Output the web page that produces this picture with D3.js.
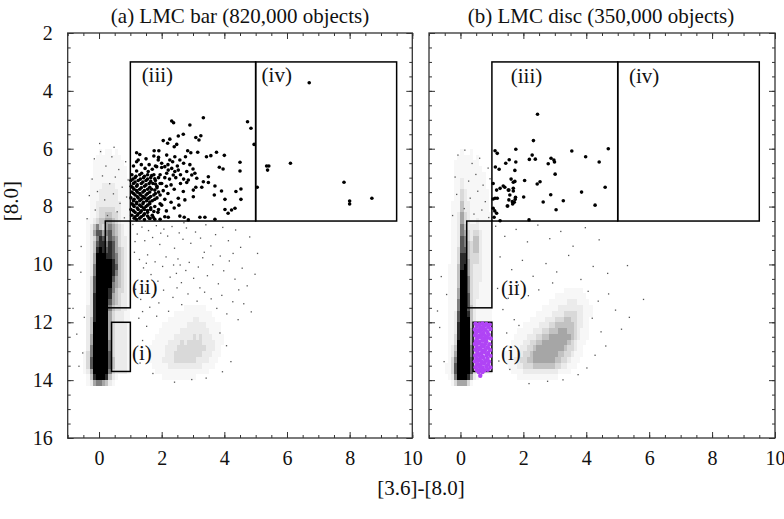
<!DOCTYPE html>
<html>
<head>
<meta charset="utf-8">
<script src="https://cdn.jsdelivr.net/npm/d3@7"></script>
<style>
body { margin: 0; background: #fff; }
svg text { font-family: "Liberation Serif", "Times New Roman", Times, serif !important; fill: #111; }
</style>
</head>
<body>
<svg width="784" height="519"></svg>
<script>
// ---- data ----
const xDomain = [-1, 10];
const yDomain = [2, 16];
const xTickLabels = [0, 2, 4, 6, 8, 10];
const yTickLabels = [2, 4, 6, 8, 10, 12, 14, 16];
const panelTitles = ["(a) LMC bar (820,000 objects)", "(b) LMC disc (350,000 objects)"];
const regionNames = ["(i)", "(ii)", "(iii)", "(iv)"];

// selection regions [x0, x1, y0, y1]
const regionI = [0.4, 1.0, 12, 13.7];
const regionII = [0.2, 1.0, 8.5, 11.5];
const regionIII = [1.0, 5.0, 3, 8.5];
const regionIV = [5.0, 9.5, 3, 8.5];

// density of the faint dots, one digit (0-9) per cell
// core grid: cells 0.1 wide starting at x=-0.7, 0.2 tall starting at y=5.4
const coreGrid = { x0: -0.7, dx: 0.1, y0: 5.4, dy: 0.2 };
const coreBar = [
"00000000000000000",
"00000000000000000",
"00000000000000000",
"00000001011010000",
"00000011111111000",
"00000111111111100",
"00000111111111110",
"00000111111111110",
"00001111111111111",
"00001111222211111",
"00001112222221111",
"00001112222221111",
"00001122222222111",
"00001123333322111",
"00001123344332111",
"00011234455432111",
"00012464356543211",
"00012577567543211",
"00012368757653221",
"00012478868753221",
"00012489878754321",
"00012599988764321",
"00012599999864321",
"00012699999874321",
"00012699999864321",
"00013799999754321",
"00013799999654321",
"00013799998643321",
"00013899998543221",
"00013899997543221",
"00023899996433221",
"00023899995322211",
"00024899995322211",
"00024999995322221",
"00024999995322221",
"00025999995322221",
"00025999996322221",
"00026999996322221",
"00136999997322221",
"00137999997422221",
"00137999997422221",
"00125999996322221",
"00014899984210000",
"00012566542100000"
];
const coreDisc = [
"00000000000000000",
"00000000000000000",
"00000000000000000",
"00000001001000000",
"00000011111010000",
"00000111111110000",
"00000111111111000",
"00000111111111100",
"00000112111111100",
"00000112111111100",
"00000113211111110",
"00000113211111110",
"00001114221111110",
"00001114221111110",
"00001125321111111",
"00001125321121111",
"00001126422221111",
"00001126532332111",
"00001127632442111",
"00001127643442111",
"00001137743442111",
"00001138843332111",
"00001138853332111",
"00011148953222111",
"00011149953222111",
"00011149963222111",
"00011149963221111",
"00011159963221111",
"00011159973221111",
"00011169973211111",
"00011169974211111",
"00011279984211111",
"00011279994211111",
"00011289994211111",
"00011289995211111",
"00011389995311111",
"00011399995311111",
"00012499996311111",
"00012599996321111",
"00013699997321111",
"00113799997321111",
"00113799997321111",
"00012699985210000",
"00001355531000000"
];

// red-clump-like cloud: cells 0.1 wide from x=1.2, 0.2 tall from y=10.8
const clusterGrid = { x0: 1.2, dx: 0.1, y0: 10.8, dy: 0.2 };
const clusterBar = [
"00000000000000000000000000000000",
"00000000000000000000000000000000",
"00000000000000000000000000000000",
"00000000000000011111110000000000",
"00000000000011111111111100000000",
"00000000001111111122111110000000",
"00000000111111112222221111100000",
"00000001111111222222222111100000",
"00000011111122222232322211110000",
"00000111112222323333322221110000",
"00001111122223333333332221100000",
"00001111122233333333322211100000",
"00001111222233333332222111000000",
"00000111112222222222211110000000",
"00000011111111111111111000000000",
"00000000111111111110000000000000"
];
const clusterDisc = [
"00000000000000000000011111100000",
"00000000000000000011111111110000",
"00000000000000001111112221111000",
"00000000000000111112222222211100",
"00000000000011111222233332211100",
"00000000001111122233344332211000",
"00000000111112223344444432211000",
"00000011111222334445554432111000",
"00000111122233445555555432111000",
"00001111223344555555554321110000",
"00011112233455555555543321100000",
"00111122334555555554433211100000",
"00111223344555555544332111000000",
"00011122333444444433221110000000",
"00001111222222222221111000000000",
"00000011111111111110000000000000"
];

// isolated faint dots [colour, magnitude]
const sparseBar = [
[1.08,8.62],[1.22,8.95],[1.37,8.71],[1.46,9.18],[1.58,8.83],[1.71,9.07],[1.83,8.66],[1.94,9.31],[2.07,8.78],
[2.19,9.02],[2.33,8.69],[2.41,9.44],[2.56,8.91],[2.68,9.13],[2.79,8.74],[2.93,9.27],[3.08,8.88],[3.24,9.09],
[3.41,8.63],[3.57,9.36],[3.72,8.97],[3.95,8.72],[4.13,9.18],[4.36,8.81],[4.52,9.41],[4.81,9.05],[5.06,9.62],
[1.13,9.58],[1.29,9.83],[1.42,10.12],[1.55,9.67],[1.66,10.35],[1.79,9.91],[1.88,10.58],[2.03,10.07],[2.14,9.74],
[2.27,10.44],[2.38,10.02],[2.52,9.81],[2.63,10.63],[2.77,10.21],[2.88,9.93],[3.02,10.48],[3.17,10.09],[3.31,9.77],
[3.46,10.39],[3.63,10.01],[3.81,10.67],[3.98,10.22],[4.16,9.88],[4.34,10.51],[4.57,10.13],[4.73,10.74],[4.98,10.34],
[1.17,10.86],[1.33,11.21],[1.48,10.93],[1.62,11.48],[1.76,11.06],[1.91,11.33],[2.06,10.89],[2.22,11.62],[2.36,11.14],
[2.49,10.81],[2.64,11.39],[2.84,11.02],[3.13,11.27],[3.37,10.96],[3.58,11.19],[3.76,11.52],[3.92,11.07],[4.08,11.71],
[4.27,11.29],[4.44,11.91],[4.62,11.36],[4.86,11.64],[1.27,11.86],[1.52,12.14],[1.39,12.63],[1.61,13.02],[1.31,13.41],
[1.72,13.77],[3.86,12.37],[4.07,12.81],[4.21,13.36],[3.94,13.71],[2.41,14.07],[2.96,13.98],[3.42,13.93],
[1.15,9.21],[1.51,9.96],[1.97,8.92],[2.47,10.31],[2.71,8.56],[3.36,9.58],[3.87,9.71],[4.28,9.62],[1.39,11.63],
[1.84,11.79],[2.59,10.02],[3.22,10.81],[4.46,10.88],
[-0.58,10.27],[-0.71,12.41],[-0.52,13.06],[-0.83,11.52],[-0.57,9.38],[-0.64,13.52],[-0.47,11.83],
[-0.15,6.35],[0.05,6.1],[0.22,6.6],[0.41,6.28],[0.63,6.72],[0.85,6.45],[-0.22,7.05],[0.11,6.94],[0.34,7.21],
[0.52,6.98],[0.74,7.33],[0.93,7.08],[-0.31,7.62],[-0.05,7.48],[0.18,7.77],[0.46,7.56],[0.67,7.89],[0.88,7.67],
[-0.12,8.12],[0.27,8.31],[0.58,8.18],[0.81,8.39],[-0.38,8.42],[0.02,5.82],[0.48,5.95]
];
const sparseDisc = [
[1.12,8.68],[1.41,9.03],[1.77,8.79],[2.13,9.22],[2.46,8.64],[2.84,9.11],[3.19,8.86],[3.58,9.37],[3.97,8.73],[4.41,9.15],
[1.26,9.74],[1.63,10.18],[1.97,9.86],[2.31,10.41],[2.72,9.97],[3.06,10.26],[3.44,9.69],[3.83,10.52],[4.22,10.07],
[4.68,10.31],[5.31,10.04],[1.18,10.83],[1.52,11.17],[1.84,10.71],[2.16,11.08],[2.49,10.88],[2.93,10.64],[4.06,10.93],
[4.38,11.27],[4.71,11.02],[4.93,11.58],[5.82,11.21],[5.37,11.83],[1.35,11.56],[1.71,11.91],[1.47,12.37],[1.86,12.11],
[4.19,11.86],[4.47,12.33],[4.62,12.82],[4.28,13.14],[1.38,12.91],[1.22,13.34],[1.57,13.63],[3.74,13.81],[4.02,13.58],
[2.18,14.12],[2.77,14.04],[3.26,13.99],[5.12,12.24],
[-0.61,10.42],[-0.66,12.18],[-0.52,13.36],[-0.44,11.04],[-0.73,11.61],
[-0.08,6.22],[0.14,6.05],[0.37,6.51],[0.61,6.33],[0.88,6.67],[-0.17,6.98],[0.26,7.12],[0.49,6.89],[0.72,7.26],
[0.94,7.04],[-0.12,7.58],[0.31,7.71],[0.55,7.47],[0.79,7.83],[0.12,8.07],[0.43,8.26],[0.68,8.12],[0.9,8.38],[-0.25,8.31]
];

// bright sources (filled circles)
const boldBar = [
[1.05,6.9],[1.3,6.9],[1.55,6.9],[1.75,6.9],[1.15,7.0],[1.42,7.0],[1.65,7.0],[1.9,7.0],
[1.02,7.1],[1.25,7.1],[1.5,7.1],[1.8,7.1],[1.1,7.2],[1.35,7.2],[1.6,7.2],[1.72,7.2],[1.95,7.2],
[1.03,7.3],[1.2,7.3],[1.45,7.3],[1.85,7.3],[1.12,7.4],[1.3,7.4],[1.55,7.4],[1.68,7.4],
[1.05,7.5],[1.22,7.5],[1.4,7.5],[1.62,7.5],[1.9,7.5],[1.15,7.6],[1.33,7.6],[1.5,7.6],[1.75,7.6],
[1.02,7.7],[1.25,7.7],[1.45,7.7],[1.6,7.7],[1.85,7.7],[1.1,7.8],[1.3,7.8],[1.52,7.8],[1.7,7.8],
[1.05,7.9],[1.2,7.9],[1.4,7.9],[1.62,7.9],[1.95,7.9],[1.12,8.0],[1.35,8.0],[1.5,8.0],[1.78,8.0],
[1.02,8.1],[1.25,8.1],[1.45,8.1],[1.65,8.1],[1.15,8.2],[1.32,8.2],[1.55,8.2],[1.88,8.2],
[1.05,8.3],[1.22,8.3],[1.42,8.3],[1.7,8.3],[1.12,8.4],[1.3,8.4],[1.6,8.4],
[1.18,6.95],[1.45,6.95],[1.68,6.93],[1.08,7.05],[1.32,7.05],[1.55,7.05],[1.78,7.04],[1.15,7.15],[1.4,7.15],
[1.65,7.13],[1.22,7.25],[1.5,7.25],[1.8,7.22],[1.08,7.35],[1.35,7.35],[1.62,7.33],[1.2,7.45],[1.45,7.45],
[1.78,7.43],[1.1,7.55],[1.3,7.55],[1.55,7.55],[1.8,7.55],[1.22,7.65],[1.4,7.65],[1.65,7.65],[1.12,7.75],
[1.35,7.75],[1.55,7.73],[1.78,7.75],[1.2,7.85],[1.42,7.85],[1.62,7.84],[1.1,7.95],[1.3,7.95],[1.55,7.95],
[1.22,8.05],[1.42,8.05],[1.65,8.04],[1.1,8.15],[1.35,8.15],[1.55,8.14],[1.75,8.17],[1.25,8.25],[1.45,8.25],
[1.15,8.35],[1.35,8.35],[1.55,8.33],[1.2,8.45],[1.45,8.45],[1.78,8.44],
[1.75,6.25],[1.9,6.3],[1.6,6.55],[1.8,6.6],[2.0,6.65],[1.95,6.9],[2.1,7.0],[2.25,7.05],[2.0,7.2],
[2.15,7.3],[2.3,7.25],[1.85,7.35],[2.05,7.45],[2.2,7.55],[2.4,7.4],[1.95,7.6],[2.1,7.75],[2.3,7.85],
[2.0,7.95],[1.9,8.1],[2.15,8.15],[2.4,8.05],[2.55,7.95],[2.6,7.2],[2.45,7.0],[2.6,6.9],[2.7,7.05],
[2.5,6.6],[2.7,6.5],[2.9,6.55],[3.0,6.7],[2.35,6.45],[2.2,6.55],[1.5,6.35],[1.35,6.55],[1.1,6.6],[1.3,6.2],
[3.33,4.93],[2.32,5.04],[2.38,5.1],[2.9,5.18],[4.74,5.07],[4.85,5.29],[4.95,5.85],[2.53,5.56],[2.69,5.5],
[3.09,5.61],[3.25,5.55],[3.19,5.7],[2.26,5.67],[2.05,5.72],[2.19,5.81],[2.48,5.85],[2.4,5.93],[1.76,6.07],
[1.91,6.07],[1.2,6.14],[2.83,6.07],[2.93,6.14],[2.76,6.28],[3.15,6.12],[3.43,6.28],[3.57,6.24],[3.75,6.12],
[4.0,6.23],[4.5,6.47],[4.5,6.77],[3.84,6.64],[3.96,6.7],[1.2,6.45],[1.25,6.39],[2.16,6.22],[2.26,6.39],
[2.42,6.28],[2.58,6.39],[1.89,6.39],[2.0,6.5],[1.84,6.62],[1.7,6.71],[1.47,6.68],[1.57,6.79],[1.36,6.85],
[1.2,6.77],[2.1,6.62],[2.21,6.74],[2.32,6.68],[2.42,6.79],[2.53,6.74],[2.16,6.85],[2.37,6.91],[2.8,6.79],
[2.96,6.91],[3.06,6.85],[3.12,7.02],[2.85,7.08],[3.49,6.97],[3.33,7.14],[3.49,7.17],[3.28,7.33],[3.09,7.33],
[3.7,7.29],[3.91,7.46],[3.68,7.6],[4.37,7.48],[4.53,7.39],[4.53,7.75],[4.02,7.75],[2.8,7.17],[2.69,7.48],
[2.53,7.71],[2.74,7.77],[3.01,7.66],[3.01,7.43],[4.02,8.1],[4.23,8.12],[4.34,8.06],[4.12,8.23],[3.38,8.37],
[3.7,8.44],[3.22,8.37],[2.58,8.33],[2.72,8.37],[2.85,8.46],[2.21,8.37],[2.1,8.35],[1.95,8.44],[1.73,8.37],[1.63,8.41],
[6.71,3.72],[5.35,6.6],[5.42,6.6],[5.38,6.74],[6.11,6.5],[7.82,7.16],[8.0,7.81],[8.0,7.91],[8.71,7.71],[5.05,7.33]
];
const boldDisc = [
[2.45,4.81],[2.32,5.72],[1.1,6.07],[1.17,6.16],[1.76,6.02],[3.54,6.08],[4.7,6.0],[3.98,6.28],[4.41,6.46],
[2.28,6.22],[2.19,6.37],[2.38,6.36],[2.88,6.33],[2.97,6.39],[2.99,6.46],[2.79,6.52],[1.55,6.38],[1.44,6.5],
[1.76,6.46],[1.11,6.63],[1.23,6.71],[1.73,6.75],[3.01,6.88],[1.61,7.05],[1.73,7.13],[1.68,7.16],[2.04,7.1],
[2.53,7.14],[2.44,7.22],[1.04,7.2],[1.36,7.29],[1.41,7.33],[1.26,7.37],[1.15,7.43],[1.54,7.43],[1.68,7.46],
[3.85,7.5],[4.6,7.33],[1.57,7.6],[1.75,7.68],[2.01,7.67],[2.87,7.59],[3.27,7.8],[2.63,7.84],[1.54,7.77],
[1.1,7.71],[1.17,7.71],[1.71,7.85],[1.66,7.91],[1.49,7.98],[4.28,7.95],[3.04,8.11],[1.04,8.06],[1.09,8.15],
[1.15,8.23],[1.07,8.37],[1.26,8.49],[2.18,8.46],[1.52,7.43],[1.68,7.37],[1.65,7.83],[1.74,7.75],[1.5,7.98],[1.04,7.74]
];

// highlighted sources inside region (i) of the disc
const purpleDisc = [
[0.48,12.05],[0.6,12.07],[0.7,12.04],[0.82,12.06],[0.93,12.08],
[0.52,12.15],[0.64,12.17],[0.75,12.13],[0.88,12.16],
[0.46,12.25],[0.57,12.27],[0.69,12.24],[0.8,12.26],[0.95,12.23],
[0.5,12.35],[0.62,12.33],[0.73,12.37],[0.86,12.34],
[0.47,12.45],[0.58,12.47],[0.67,12.44],[0.78,12.46],[0.9,12.43],
[0.53,12.55],[0.65,12.53],[0.76,12.57],[0.85,12.54],[0.96,12.56],
[0.49,12.65],[0.6,12.67],[0.71,12.63],[0.82,12.66],
[0.46,12.75],[0.56,12.73],[0.68,12.77],[0.79,12.74],[0.92,12.76],
[0.52,12.85],[0.63,12.87],[0.74,12.83],[0.87,12.86],
[0.48,12.95],[0.59,12.93],[0.7,12.97],[0.8,12.94],[0.94,12.96],
[0.54,13.05],[0.66,13.07],[0.77,13.03],[0.88,13.06],
[0.47,13.15],[0.58,13.13],[0.69,13.17],[0.83,13.14],[0.95,13.16],
[0.51,13.25],[0.62,13.27],[0.73,13.23],[0.86,13.26],
[0.46,13.35],[0.57,13.33],[0.68,13.37],[0.79,13.34],[0.91,13.36],
[0.53,13.45],[0.64,13.47],[0.75,13.43],[0.88,13.46],
[0.48,13.55],[0.6,13.53],[0.7,13.57],[0.82,13.54],[0.95,13.56],
[0.52,13.65],[0.63,13.63],[0.76,13.66],[0.87,13.64],
[0.58,13.72],[0.7,13.72],[0.63,13.85]
];

// ---- drawing ----
const svg = d3.select("svg");
const plotTop = 33, plotBottom = 438;
const levelAlpha = [0, 0.03, 0.08, 0.15, 0.24, 0.35, 0.5, 0.66, 0.83, 1];
const fontFam = "'Liberation Serif', 'Times New Roman', serif";

const panels = [
    { left: 67.7, right: 412.3, title: panelTitles[0], core: coreBar, cluster: clusterBar,
      sparse: sparseBar, bold: boldBar, purple: [], yLabels: true,
      labelAt: [[1.05, 13.3], [1.05, 11.02], [1.36, 3.69], [5.19, 3.69]] },
    { left: 429, right: 775, title: panelTitles[1], core: coreDisc, cluster: clusterDisc,
      sparse: sparseDisc, bold: boldDisc, purple: purpleDisc, yLabels: false,
      labelAt: [[1.29, 13.32], [1.29, 11.05], [1.6, 3.72], [5.36, 3.72]] }
];

panels.forEach((p, i) => {
    const x = d3.scaleLinear().domain(xDomain).range([p.left, p.right]);
    const y = d3.scaleLinear().domain(yDomain).range([plotTop, plotBottom]);

    const clipId = "clip" + i;
    svg.append("clipPath").attr("id", clipId)
        .append("rect")
        .attr("x", p.left).attr("y", plotTop)
        .attr("width", p.right - p.left).attr("height", plotBottom - plotTop);

    const plot = svg.append("g").attr("clip-path", "url(#" + clipId + ")");

    // density cells
    function drawGrid(rows, g) {
        const cells = [];
        rows.forEach((row, r) => {
            row.split("").forEach((ch, c) => {
                if (+ch > 0) cells.push({ x: g.x0 + c * g.dx, y: g.y0 + r * g.dy, level: +ch });
            });
        });
        plot.append("g")
            .attr("shape-rendering", "crispEdges")
            .selectAll("rect")
            .data(cells)
            .enter()
            .append("rect")
            .attr("x", d => x(d.x))
            .attr("y", d => y(d.y))
            .attr("width", x(g.dx) - x(0))
            .attr("height", y(g.dy) - y(0))
            .attr("fill", "#000")
            .attr("fill-opacity", d => levelAlpha[d.level]);
    }
    drawGrid(p.core, coreGrid);
    drawGrid(p.cluster, clusterGrid);

    plot.append("g").selectAll("rect")
        .data(p.sparse)
        .enter()
        .append("rect")
        .attr("x", d => x(d[0]) - 0.65)
        .attr("y", d => y(d[1]) - 0.65)
        .attr("width", 1.3)
        .attr("height", 1.3)
        .attr("fill", "#555");

    // selection boxes
    const boxes = plot.append("g")
        .attr("fill", "none")
        .attr("stroke", "#000")
        .attr("stroke-width", 1.5);
    [regionI, regionII, regionIII, regionIV].forEach(b => {
        boxes.append("rect")
            .attr("x", x(b[0]))
            .attr("y", y(b[2]))
            .attr("width", x(b[1]) - x(b[0]))
            .attr("height", y(b[3]) - y(b[2]));
    });

    plot.append("g").selectAll("circle")
        .data(p.bold)
        .enter()
        .append("circle")
        .attr("cx", d => x(d[0]))
        .attr("cy", d => y(d[1]))
        .attr("r", 1.8)
        .attr("fill", "#000");

    plot.append("g").selectAll("circle")
        .data(p.purple)
        .enter()
        .append("circle")
        .attr("cx", d => x(d[0]))
        .attr("cy", d => y(d[1]))
        .attr("r", 2.2)
        .attr("fill", "#b044f5");

    // region labels
    svg.append("g").selectAll("text")
        .data(regionNames)
        .enter()
        .append("text")
        .attr("x", (d, k) => x(p.labelAt[k][0]))
        .attr("y", (d, k) => y(p.labelAt[k][1]))
        .attr("font-family", fontFam)
        .style("font-size", "21px")
        .text(d => d);

    // axes, ticks point inwards on all four sides
    const minorX = d3.range(-1, 10.01, 0.5);
    const minorY = d3.range(2, 16.01, 0.5);
    const h = plotBottom - plotTop, w = p.right - p.left;

    function styleAxis(g) {
        g.attr("font-family", fontFam);
        g.select(".domain").remove();
        g.selectAll("line").attr("stroke", "#333").attr("stroke-width", 1);
        g.selectAll("text").style("font-size", "20px").attr("fill", "#111");
    }

    svg.append("g").attr("transform", "translate(0," + plotBottom + ")")
        .call(d3.axisBottom(x).tickValues(minorX).tickSizeInner(-3).tickSizeOuter(0).tickFormat(""))
        .call(styleAxis);
    svg.append("g").attr("transform", "translate(0," + plotBottom + ")")
        .call(d3.axisBottom(x).tickValues(xTickLabels).tickSizeInner(-6).tickSizeOuter(0).tickPadding(13))
        .call(styleAxis);
    svg.append("g").attr("transform", "translate(0," + plotTop + ")")
        .call(d3.axisTop(x).tickValues(minorX).tickSizeInner(-3).tickSizeOuter(0).tickFormat(""))
        .call(styleAxis);
    svg.append("g").attr("transform", "translate(0," + plotTop + ")")
        .call(d3.axisTop(x).tickValues(xTickLabels).tickSizeInner(-6).tickSizeOuter(0).tickFormat(""))
        .call(styleAxis);

    svg.append("g").attr("transform", "translate(" + p.left + ",0)")
        .call(d3.axisLeft(y).tickValues(minorY).tickSizeInner(-3).tickSizeOuter(0).tickFormat(""))
        .call(styleAxis);
    svg.append("g").attr("transform", "translate(" + p.left + ",0)")
        .call(d3.axisLeft(y).tickValues(yTickLabels).tickSizeInner(-6).tickSizeOuter(0).tickPadding(15)
            .tickFormat(p.yLabels ? d3.format("d") : ""))
        .call(styleAxis);
    svg.append("g").attr("transform", "translate(" + p.right + ",0)")
        .call(d3.axisRight(y).tickValues(minorY).tickSizeInner(-3).tickSizeOuter(0).tickFormat(""))
        .call(styleAxis);
    svg.append("g").attr("transform", "translate(" + p.right + ",0)")
        .call(d3.axisRight(y).tickValues(yTickLabels).tickSizeInner(-6).tickSizeOuter(0).tickFormat(""))
        .call(styleAxis);

    svg.append("rect")
        .attr("x", p.left).attr("y", plotTop)
        .attr("width", w).attr("height", h)
        .attr("fill", "none")
        .attr("stroke", "#333")
        .attr("stroke-width", 1.3);

    svg.append("text")
        .attr("x", (p.left + p.right) / 2 + (i === 0 ? 0 : -1))
        .attr("y", 23)
        .attr("text-anchor", "middle")
        .attr("font-family", fontFam)
        .style("font-size", "21px")
        .text(p.title);
});

svg.append("text")
    .attr("x", 421)
    .attr("y", 495)
    .attr("text-anchor", "middle")
    .attr("font-family", fontFam)
    .style("font-size", "21px")
    .text("[3.6]-[8.0]");

svg.append("text")
    .attr("transform", "translate(18,201) rotate(-90)")
    .attr("text-anchor", "middle")
    .attr("font-family", fontFam)
    .style("font-size", "21px")
    .text("[8.0]");
</script>
</body>
</html>
